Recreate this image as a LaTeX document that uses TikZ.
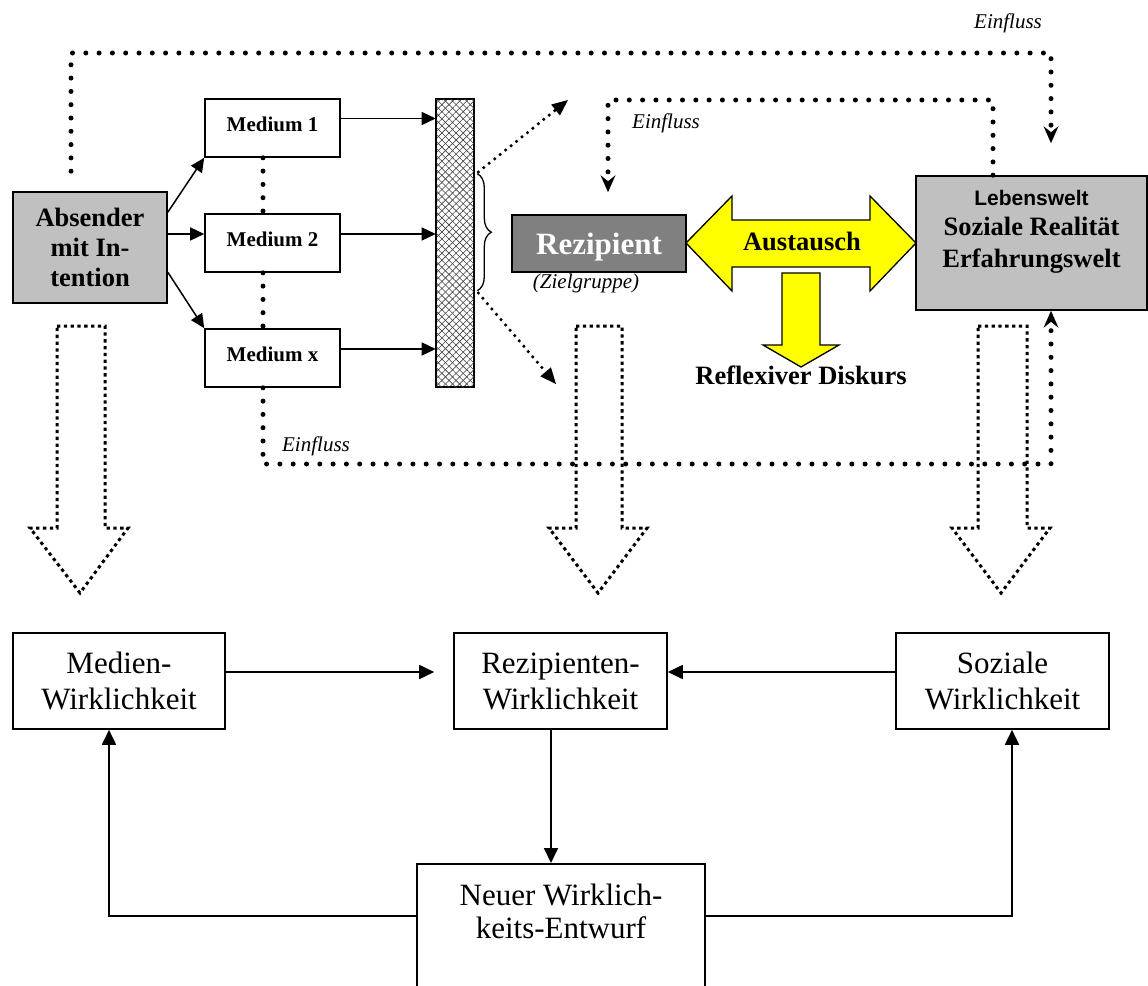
\documentclass[tikz,border=0pt]{standalone}
\usepackage{fontspec}
\setmainfont{Liberation Serif}
\newfontfamily\arialfont{Liberation Sans}
\usetikzlibrary{arrows.meta,calc,patterns.meta,decorations.pathreplacing}
\definecolor{lgray}{HTML}{C0C0C0}
\definecolor{dgray}{HTML}{808080}
\definecolor{ylw}{HTML}{FFFF00}
\newcommand\fsz[2]{\fontsize{#1}{#2}\selectfont}
\begin{document}
\begin{tikzpicture}[x=1pt,y=-1pt,
  box/.style={draw,line width=1.6pt,inner sep=0pt,align=center},
  medbox/.style={box,minimum width=135,minimum height=58,font=\bfseries\fsz{21}{24},text depth=8pt},
  lowbox/.style={box,minimum width=212,minimum height=96,font=\fsz{31}{36}},
  arr/.style={line width=1.8pt,-{Triangle[length=15pt,width=14pt]}},
  sarr/.style={line width=1.5pt,-{Triangle[length=14pt,width=13pt]}},
  bigdots/.style={line width=5pt,line cap=round,dash pattern=on 0pt off 13.3pt},
  smalldots/.style={line width=3.5pt,line cap=round,dash pattern=on 0pt off 7pt},
  hollow/.style={line width=3pt,dash pattern=on 3.3pt off 3.5pt},
  einfl/.style={-{Stealth[length=17pt,width=15pt,inset=6pt,line width=0pt]}},
  diag/.style={-{Triangle[length=16pt,width=14pt,line width=0pt]}},
  lbl/.style={font=\itshape\fsz{21}{24},inner sep=0pt,anchor=base},
  yarrow/.style={fill=ylw,draw,line width=1.3pt,line join=miter}
]
\useasboundingbox (0,0) rectangle (1148,985);
\clip (0,0) rectangle (1148,985);

% main boxes
\node[box,fill=lgray,minimum width=154,minimum height=111,font=\bfseries\fsz{26.5}{30}] (absender) at (90,247.5) {Absender\\mit In-\\tention};
\node[medbox] (medium1) at (272.5,128) {Medium 1};
\node[medbox] (medium2) at (272.5,243) {Medium 2};
\node[medbox] (mediumx) at (272.5,358) {Medium x};
\node[draw,line width=1.6pt,minimum width=38,minimum height=288,inner sep=0pt,
  pattern={Lines[angle=45,distance=5pt,line width=0.6pt]},pattern color=black!75,
  postaction={pattern={Lines[angle=-45,distance=5pt,line width=0.6pt]},pattern color=black!75}] (bar) at (455,243) {};
\node[box,fill=dgray,minimum width=174,minimum height=57] (rezipient) at (599,243.5) {};
\node[inner sep=0pt,anchor=base,text=white,font=\bfseries\fsz{31}{34}] (reztext) at (599,254) {Rezipient};
\node[inner sep=0pt,font=\itshape\fsz{21}{24}] (ziel) at (586,283) {(Zielgruppe)};
\node[box,fill=lgray,minimum width=231,minimum height=134] (lebenswelt) at (1031.5,243) {};
\node[inner sep=0pt,anchor=base,font=\arialfont\bfseries\fsz{21}{24}] (lw1) at (1031.5,205) {Lebenswelt};
\node[inner sep=0pt,anchor=base,font=\bfseries\fsz{26.5}{30}] (lw2) at (1031.5,235) {Soziale Realität};
\node[inner sep=0pt,anchor=base,font=\bfseries\fsz{26.5}{30}] (lw3) at (1031.5,267) {Erfahrungswelt};

% yellow arrows
\draw[yarrow] (686,243) -- (732,196) -- (732,220) -- (870,220) -- (870,196) -- (916,243)
  -- (870,291) -- (870,267) -- (732,267) -- (732,291) -- cycle;
\draw[yarrow] (782,273) -- (820,273) -- (820,345) -- (839,345) -- (801,367) -- (763,345) -- (782,345) -- cycle;
\node[inner sep=0pt,anchor=base,font=\bfseries\fsz{26.5}{30}] (austausch) at (802,250) {Austausch};
\node[inner sep=0pt,anchor=base,font=\bfseries\fsz{26.5}{30}] (reflexiv) at (801,384) {Reflexiver Diskurs};

% brace
\draw[line width=1.3pt,decorate,decoration={brace,amplitude=14pt}] ($(bar.north east)+(3,75)$) -- ($(bar.north east)+(3,192)$);

% arrows absender -> media
\draw[sarr] ($(absender.north east)+(0,21)$) -- (medium1.south west);
\draw[sarr] ($(absender.east)+(0,-13.5)$) -- ($(medium2.west)+(0,-9)$);
\draw[sarr] ($(absender.north east)+(0,81)$) -- (mediumx.north west);
% media -> bar
\draw[sarr] ($(medium1.east)+(0,-9.5)$) -- ($(bar.west |- medium1.east)+(0,-9.5)$);
\draw[sarr] ($(medium2.east)+(0,-9)$) -- ($(bar.west |- medium2.east)+(0,-9)$);
\draw[sarr] ($(mediumx.east)+(0,-9)$) -- ($(bar.west |- mediumx.east)+(0,-9)$);

% dotted between media
\draw[bigdots] ($(medium1.south)+(-9.5,0)$) -- ($(medium2.north)+(-9.5,0)$);
\draw[bigdots] ($(medium2.south)+(-9.5,0)$) -- ($(mediumx.north)+(-9.5,0)$);

% diagonal dotted arrows from bar
\coordinate (d1) at (568,100);
\coordinate (d2) at (556,384);
\draw[smalldots,diag] ($(bar.east)+(4,-71)$) -- (d1);
\draw[smalldots,diag] ($(bar.east)+(4,50)$) -- (d2);

% Einfluss lines
\draw[bigdots,einfl] ($(absender.north)+(-19,-20)$) |- (1051,53) -- ($(lebenswelt.north)+(19.5,-32)$);
\draw[bigdots,einfl] ($(lebenswelt.north)+(-38.5,0)$) |- (608,100) -- ($(rezipient.north)+(9,-22)$);
\draw[bigdots,einfl] ($(mediumx.south)+(-9.5,0)$) |- (1051,464) -- ($(lebenswelt.south)+(19.5,0)$);
\node[lbl] (ein1) at (1008,28) {Einfluss};
\node[lbl] (ein2) at (666,128) {Einfluss};
\node[lbl] (ein3) at (316,451) {Einfluss};

% hollow dotted arrows
\draw[hollow] (57,326) -- (105,326) -- (105,528) -- (128,528) -- (80,593) -- (30,528) -- (57,528) -- cycle;
\draw[hollow] (576,326) -- (622,326) -- (622,528) -- (647,528) -- (598,593) -- (549,528) -- (576,528) -- cycle;
\draw[hollow] (978,326) -- (1027,326) -- (1027,528) -- (1050,528) -- (1001,593) -- (952,528) -- (978,528) -- cycle;

% bottom boxes
\node[lowbox] (medien) at (119,681) {Medien-\\Wirklichkeit};
\node[lowbox,minimum width=213] (rezipienten) at (560.5,681) {Rezipienten-\\Wirklichkeit};
\node[lowbox,minimum width=213] (soziale) at (1002.5,681) {Soziale\\Wirklichkeit};
\node[box,minimum width=288,minimum height=200,anchor=north] (neuer) at (561,863) {};
\node[inner sep=0pt,align=center,font=\fsz{31}{33}] (neuertext) at (561,911) {Neuer Wirklich-\\keits-Entwurf};

\draw[arr] ($(medien.east)+(0,-9)$) -- ($(rezipienten.west)+(-19,-9)$);
\draw[arr] ($(soziale.west)+(0,-9)$) -- ($(rezipienten.east)+(0,-9)$);
\draw[arr] ($(rezipienten.south)+(-9.5,0)$) -- ($(neuer.north)+(-10,0)$);
\draw[arr] ($(neuer.north west)+(0,53)$) -| ($(medien.south)+(-10,0)$);
\draw[arr] ($(neuer.north east)+(0,53)$) -| ($(soziale.south)+(9.5,0)$);
\end{tikzpicture}
\end{document}
